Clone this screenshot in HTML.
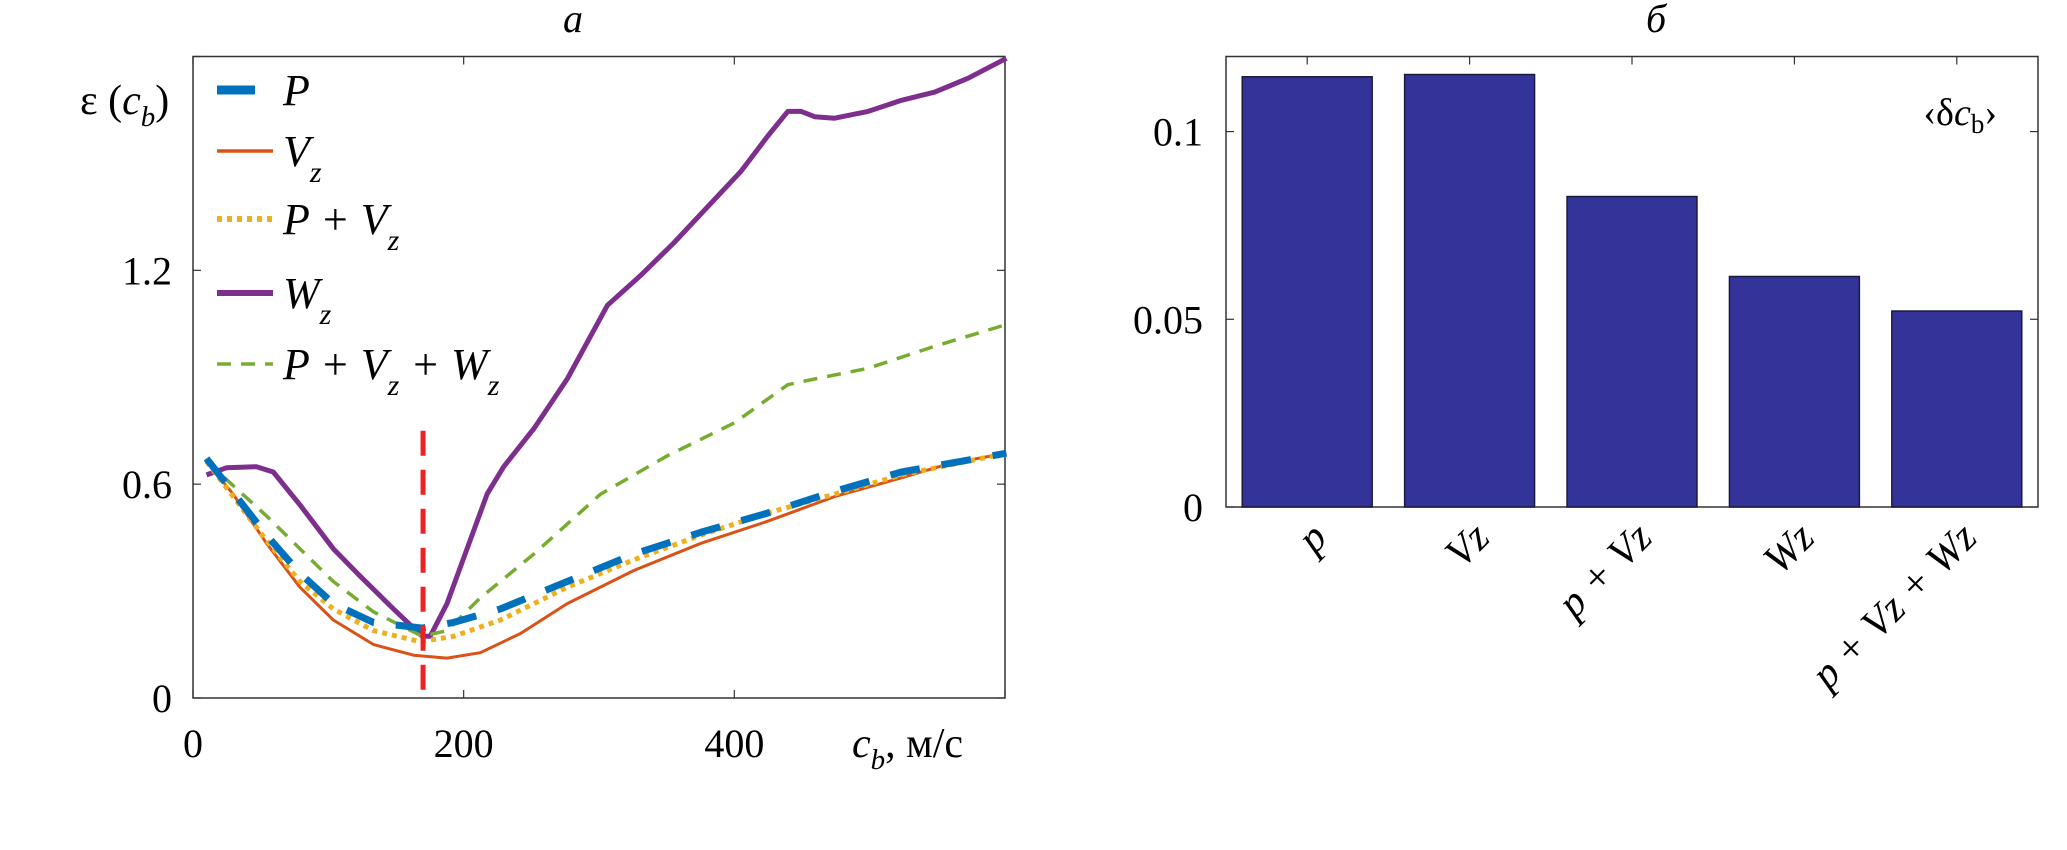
<!DOCTYPE html>
<html><head><meta charset="utf-8"><style>
html,body{margin:0;padding:0;background:#fff;}
svg{display:block;font-family:"Liberation Serif",serif;}
</style></head><body>
<svg id="c" width="2067" height="850" viewBox="0 0 2067 850" xmlns="http://www.w3.org/2000/svg"></svg>
<script>
// ---------- data: panel a ----------
const xP=[10,54.3,79,103.7,133.3,169.4,192.6,227.2,276.5,325.9,375.3,424.7,474.1,523.5,601];
const yP=[0.672,0.457,0.350,0.265,0.212,0.196,0.212,0.250,0.327,0.404,0.465,0.519,0.580,0.634,0.687];
const xVz=[10,29.6,54.3,79,103.7,133.3,163,187.7,212.3,242,276.5,325.9,375.3,424.7,474.1,523.5,558,601];
const yVz=[0.664,0.572,0.434,0.311,0.219,0.150,0.120,0.112,0.127,0.181,0.265,0.358,0.434,0.496,0.565,0.618,0.657,0.687];
const xPV=[10,54.3,79,103.7,133.3,167.9,192.6,227.2,276.5,325.9,375.3,424.7,474.1,523.5,601];
const yPV=[0.664,0.442,0.327,0.250,0.189,0.158,0.173,0.219,0.311,0.388,0.457,0.519,0.572,0.626,0.687];
const xWz=[10,24.7,46.9,59.3,79,103.7,123.5,148.1,169.4,175.3,187.7,202.5,217.3,229.6,251.9,276.5,306.2,330.9,355.6,380.2,404.9,424.7,439.5,449.4,459.3,474.1,498.8,523.5,548.1,572.8,601];
const yWz=[0.626,0.646,0.649,0.634,0.542,0.419,0.342,0.250,0.173,0.173,0.265,0.419,0.572,0.649,0.756,0.895,1.102,1.186,1.278,1.378,1.478,1.577,1.646,1.646,1.631,1.627,1.646,1.677,1.700,1.739,1.795];
const xAll=[10,54.3,79,103.7,133.3,169.4,187.7,212.3,251.9,301.2,350.6,400,439.5,459.3,498.8,548.1,601];
const yAll=[0.664,0.511,0.419,0.327,0.242,0.173,0.189,0.281,0.404,0.572,0.680,0.772,0.879,0.895,0.925,0.987,1.048];
const markerX=170, markerTop=0.75;
const xTicksA=[0,200,400,600];
const xTickLabelsA=["0","200","400",""];
const yTicksA=[0,0.6,1.2,1.8];
const yTickLabelsA=["0","0.6","1.2",""];
// ---------- data: panel b ----------
const cats=["p","Vz","p + Vz","Wz","p + Vz + Wz"];
const vals=[0.1146,0.1152,0.0827,0.0614,0.0522];
const yTicksB=[0,0.05,0.1];
const yTickLabelsB=["0","0.05","0.1"];

const NS="http://www.w3.org/2000/svg";
const svg=document.getElementById('c');
function el(tag,attrs,parent){const e=document.createElementNS(NS,tag);for(const k in attrs)e.setAttribute(k,attrs[k]);(parent||svg).appendChild(e);return e;}

// ---- panel a axes ----
const A={l:193,r:1005,t:56.5,b:698,x0:0,x1:600,y0:0,y1:1.8};
const ax=v=>A.l+(v-A.x0)/(A.x1-A.x0)*(A.r-A.l);
const ay=v=>A.b-(v-A.y0)/(A.y1-A.y0)*(A.b-A.t);
const gA=el('g',{});


const frA=el('rect',{x:A.l,y:A.t,width:A.r-A.l,height:A.b-A.t,fill:'none',stroke:'#333','stroke-width':1.5},gA);


xTicksA.forEach((v,i)=>{
  el('line',{x1:ax(v),x2:ax(v),y1:A.b,y2:A.b-8,stroke:'#333','stroke-width':1.2},gA);
  el('line',{x1:ax(v),x2:ax(v),y1:A.t,y2:A.t+8,stroke:'#333','stroke-width':1.2},gA);
  const t=el('text',{x:ax(v),y:757,'font-size':40,'text-anchor':'middle'},gA);
  t.textContent=xTickLabelsA[i];
  
  
});
yTicksA.forEach((v,i)=>{
  el('line',{x1:A.l,x2:A.l+8,y1:ay(v),y2:ay(v),stroke:'#333','stroke-width':1.2},gA);
  el('line',{x1:A.r,x2:A.r-8,y1:ay(v),y2:ay(v),stroke:'#333','stroke-width':1.2},gA);
  const t=el('text',{x:172,y:ay(v)+14,'font-size':40,'text-anchor':'end'},gA);
  t.textContent=yTickLabelsA[i];
  
  
});
function line(xs,ys,attrs,name){
  const d=xs.map((x,i)=>(i?'L':'M')+ax(x).toFixed(1)+' '+ay(ys[i]).toFixed(1)).join(' ');
  const p=el('path',Object.assign({d:d,fill:'none','stroke-linejoin':'round'},attrs),gA);
  
  
}
line(xWz,yWz,{stroke:'#7E2F8E','stroke-width':5},'series-wz');
line(xAll,yAll,{stroke:'#77AC30','stroke-width':3.5,'stroke-dasharray':'14 10'},'series-p-vz-wz');
line(xVz,yVz,{stroke:'#D95319','stroke-width':3},'series-vz');
line(xPV,yPV,{stroke:'#EDB120','stroke-width':5,'stroke-dasharray':'5 5'},'series-p-vz');
line(xP,yP,{stroke:'#0072BD','stroke-width':7,'stroke-dasharray':'30 22'},'series-p');
const rl=el('line',{x1:ax(markerX),x2:ax(markerX),y1:ay(markerTop),y2:A.b,stroke:'#ee2222','stroke-width':5,'stroke-dasharray':'25 14'},gA);



// legend
const leg=[{n:'P',sub:'',st:{stroke:'#0072BD','stroke-width':9,'stroke-dasharray':'38 100'},y:90},
{n:'V',sub:'z',st:{stroke:'#D95319','stroke-width':3.5},y:151},
{n:'P + V',sub:'z',st:{stroke:'#EDB120','stroke-width':6,'stroke-dasharray':'5 5'},y:219},
{n:'W',sub:'z',st:{stroke:'#7E2F8E','stroke-width':6},y:293},
{n:'P + V',sub:'z',tail:' + W',sub2:'z',st:{stroke:'#77AC30','stroke-width':3.5,'stroke-dasharray':'14 10'},y:364}];
const gL=el('g',{},gA);


leg.forEach(o=>{
  const ln=el('line',Object.assign({x1:217,x2:273,y1:o.y,y2:o.y},o.st),gL);
  
  
  const t=el('text',{x:283,y:o.y+15,'font-size':44,'font-style':'italic'},gL);
  
  
  let h=o.n;
  if(o.sub) h+='<tspan dy="16" font-size="30">'+o.sub+'</tspan>';
  if(o.tail) h+='<tspan dy="-16">'+o.tail+'</tspan><tspan dy="16" font-size="30">'+o.sub2+'</tspan>';
  t.innerHTML=h;
});
const yl=el('text',{x:80,y:114,'font-size':42},gA);
yl.innerHTML='ε (<tspan font-style="italic">c</tspan><tspan font-style="italic" font-size="29" dy="12">b</tspan><tspan dy="-12">)</tspan>';


const xl=el('text',{x:852,y:757,'font-size':42},gA);
xl.innerHTML='<tspan font-style="italic">c</tspan><tspan font-style="italic" font-size="29" dy="12">b</tspan><tspan dy="-12">, м/с</tspan>';


const ta=el('text',{x:573,y:32,'font-size':40,'font-style':'italic','text-anchor':'middle'},gA);
ta.textContent='а';



// ---- panel b ----
const B={l:1226,r:2038,t:56.5,b:507,y0:0,y1:0.12};
const bw=(B.r-B.l)/cats.length;
const bx=i=>B.l+(i+0.5)*bw;
const by=v=>B.b-(v-B.y0)/(B.y1-B.y0)*(B.b-B.t);
const gB=el('g',{});


const frB=el('rect',{x:B.l,y:B.t,width:B.r-B.l,height:B.b-B.t,fill:'none',stroke:'#333','stroke-width':1.5},gB);


yTicksB.forEach((v,i)=>{
  el('line',{x1:B.l,x2:B.l+8,y1:by(v),y2:by(v),stroke:'#333','stroke-width':1.2},gB);
  el('line',{x1:B.r,x2:B.r-8,y1:by(v),y2:by(v),stroke:'#333','stroke-width':1.2},gB);
  const t=el('text',{x:1203,y:by(v)+14,'font-size':40,'text-anchor':'end'},gB);
  t.textContent=yTickLabelsB[i];
  
  
});
cats.forEach((c,i)=>{
  el('line',{x1:bx(i),x2:bx(i),y1:B.t,y2:B.t+8,stroke:'#333','stroke-width':1.2},gB);
  const r=el('rect',{x:bx(i)-bw*0.4,y:by(vals[i]),width:bw*0.8,height:by(0)-by(vals[i]),fill:'#333399',stroke:'#1a1a40','stroke-width':1.5},gB);
  
  
  const t=el('text',{x:0,y:0,'font-size':42,'font-style':'italic','text-anchor':'end',transform:'translate('+(bx(i)+22)+' 540) rotate(-45)'},gB);
  t.textContent=c;
  
  
});
const lb=el('text',{x:1997,y:125,'font-size':38,'text-anchor':'end'},gB);
lb.innerHTML='‹δ<tspan font-style="italic">c</tspan><tspan font-size="27" dy="8">b</tspan><tspan dy="-8">›</tspan>';


const tb=el('text',{x:1656,y:32,'font-size':40,'font-style':'italic','text-anchor':'middle'},gB);
tb.textContent='б';


</script>
</body></html>
